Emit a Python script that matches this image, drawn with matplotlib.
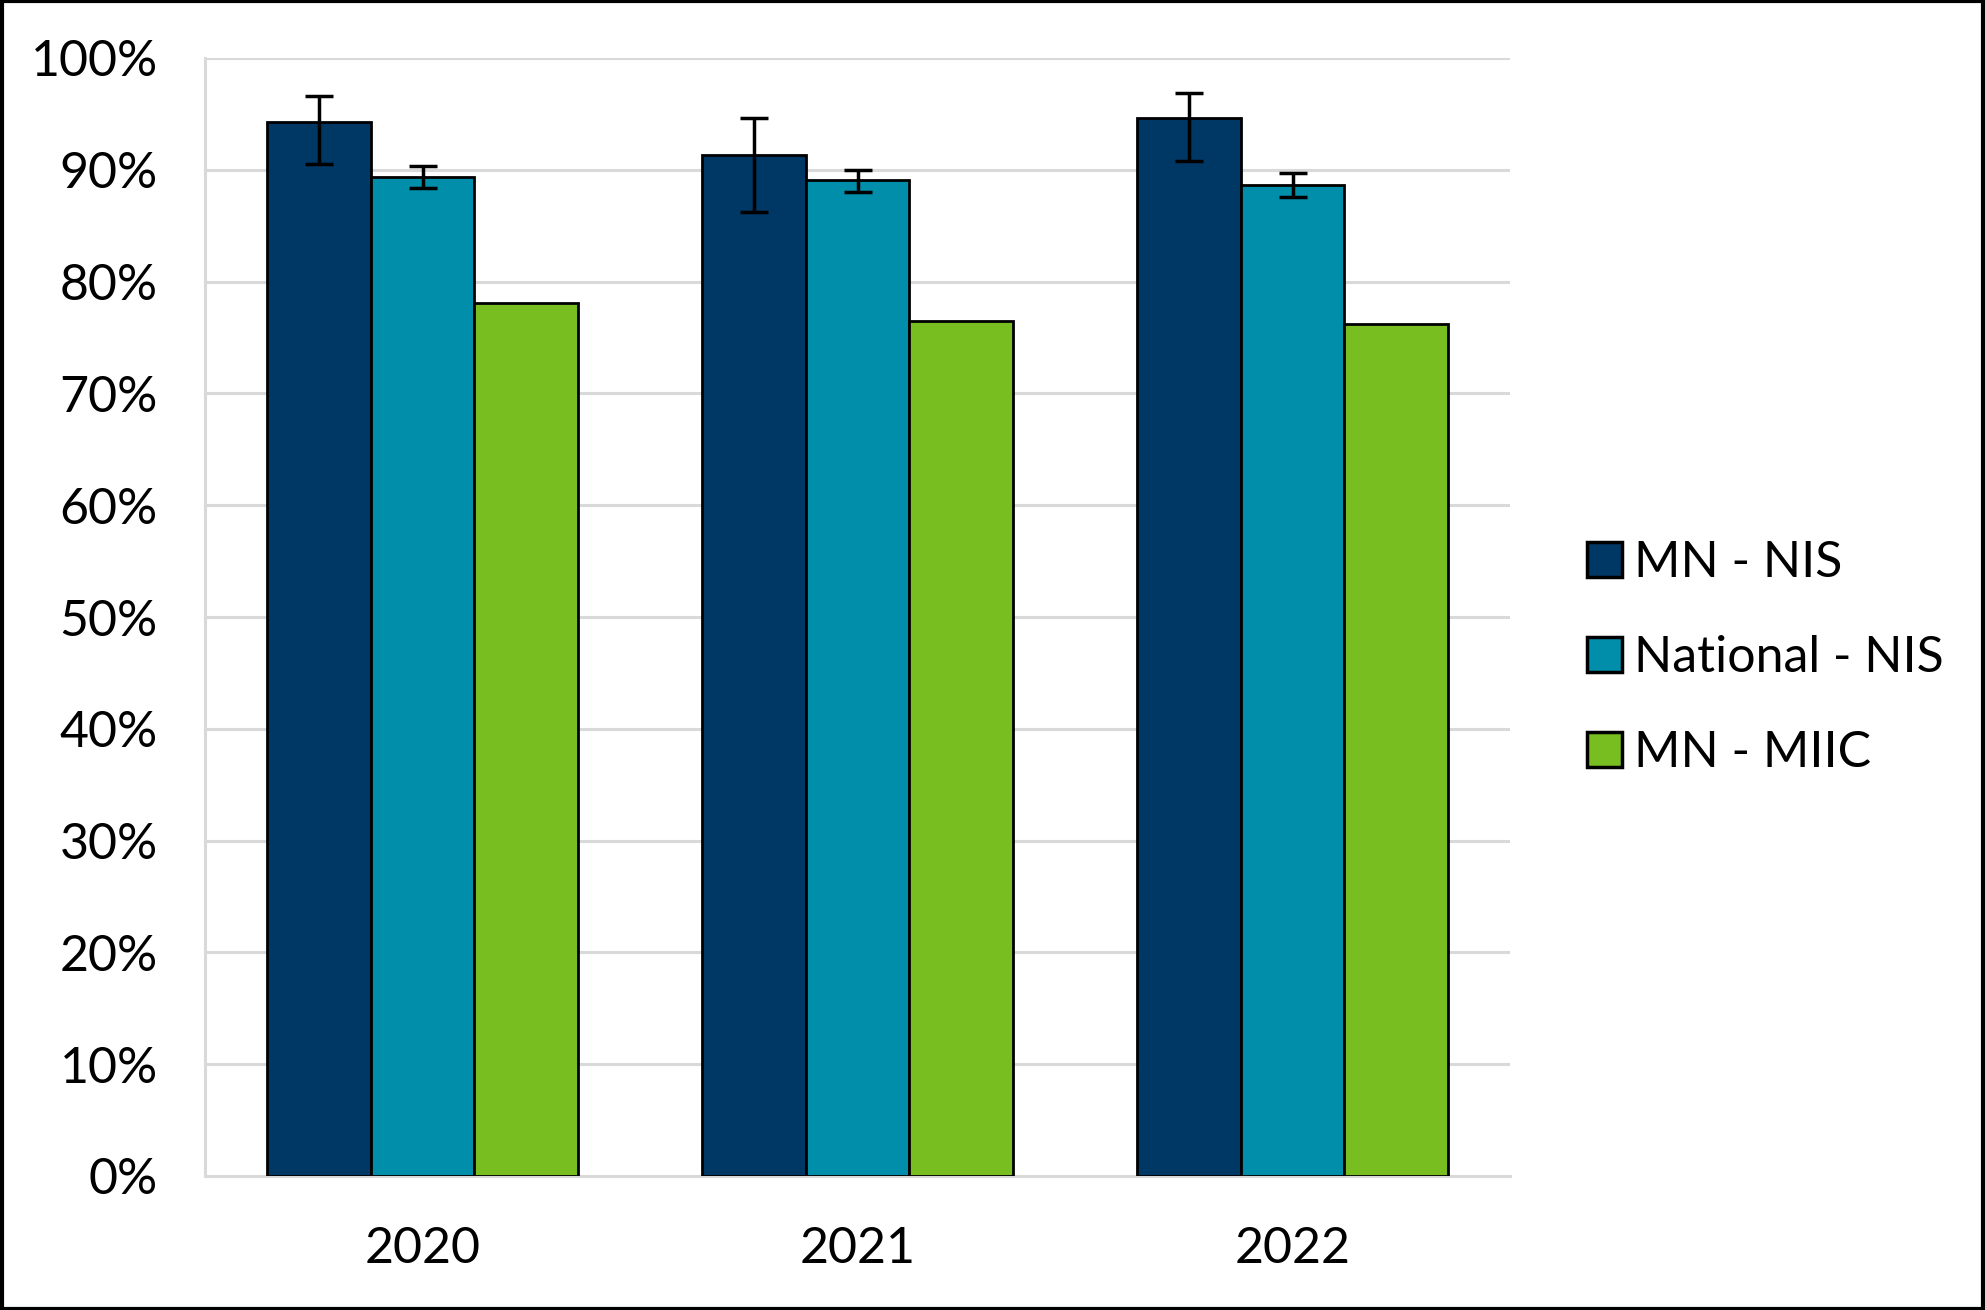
import matplotlib
matplotlib.use("Agg")
import matplotlib.pyplot as plt
import numpy as np
from matplotlib.patches import Rectangle

plt.rcParams['font.family'] = ['Lato', 'DejaVu Sans']

years = ["2020", "2021", "2022"]
series = ["MN - NIS", "National - NIS", "MN - MIIC"]
mn_nis = [94.3, 91.3, 94.6]
mn_nis_lo = [90.5, 86.2, 90.8]
mn_nis_hi = [96.6, 94.6, 96.9]
national = [89.4, 89.1, 88.6]
national_lo = [88.4, 88.0, 87.6]
national_hi = [90.3, 90.0, 89.7]
miic = [78.1, 76.5, 76.2]
yticks = [0, 10, 20, 30, 40, 50, 60, 70, 80, 90, 100]

colors = ["#003865", "#008EAA", "#78BE21"]

fig = plt.figure(figsize=(19.85, 13.10), dpi=100)
ax = fig.add_axes([205/1985, 1 - 1176/1310, (1510-205)/1985, (1176-58)/1310])

x = np.arange(len(years))
w = 0.239
vals = [mn_nis, national, miic]
errs = [
    [np.array(mn_nis) - np.array(mn_nis_lo), np.array(mn_nis_hi) - np.array(mn_nis)],
    [np.array(national) - np.array(national_lo), np.array(national_hi) - np.array(national)],
    None,
]
for i, (v, c, lab) in enumerate(zip(vals, colors, series)):
    pos = x + (i - 1) * w
    ax.bar(pos, v, width=w, color=c, edgecolor="black", linewidth=2, label=lab, zorder=3)
    if errs[i] is not None:
        ax.errorbar(pos, v, yerr=errs[i], fmt="none", ecolor="black", elinewidth=2.5,
                    capsize=10, capthick=2.5, zorder=4)

ax.set_xlim(-0.5, 2.5)
ax.set_ylim(0, 100)
ax.set_yticks(yticks)
ax.set_yticklabels([f"{t}%" for t in yticks])
ax.set_xticks(x)
ax.set_xticklabels(years)
ax.tick_params(axis="both", labelsize=36, length=0, colors="black")
ax.tick_params(axis="y", pad=34)
ax.tick_params(axis="x", pad=36)
ax.grid(axis="y", color="#d9d9d9", linewidth=2.2, zorder=0)
for s in ["top", "right"]:
    ax.spines[s].set_visible(False)
ax.spines["left"].set_color("#d9d9d9")
ax.spines["left"].set_linewidth(2.2)
ax.spines["bottom"].set_color("#d9d9d9")
ax.spines["bottom"].set_linewidth(2.2)

leg = fig.legend(loc="center left", bbox_to_anchor=(1552/1985, 1 - 658/1310), frameon=False,
                 fontsize=36, handlelength=0.7, handleheight=0.7, handletextpad=0.25,
                 labelspacing=0.98, borderpad=0.2)
for h in leg.legend_handles:
    h.set_linewidth(2.5)

fig.patches.append(Rectangle((0.001, 0.001), 0.998, 0.998, transform=fig.transFigure,
                             fill=False, edgecolor="black", linewidth=3))

fig.savefig("out.png", dpi=100)
